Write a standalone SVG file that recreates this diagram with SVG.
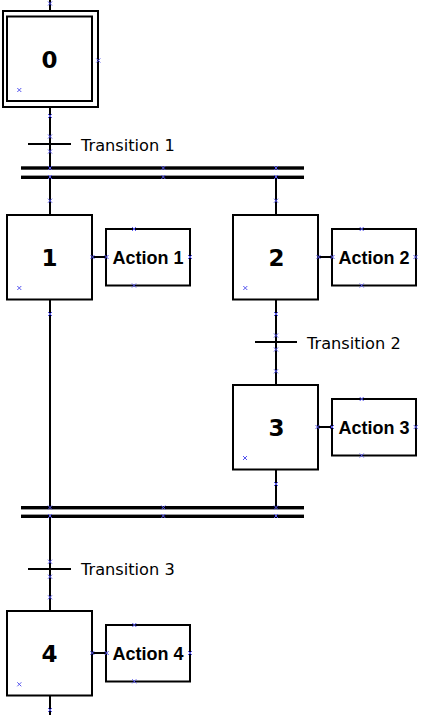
<svg xmlns="http://www.w3.org/2000/svg" xmlns:xlink="http://www.w3.org/1999/xlink" width="421" height="715" viewBox="0 0 421 715">
<style>
.box{fill:#fff;stroke:#000;stroke-width:2}
.ln{fill:none;stroke:#000;stroke-width:2}
.bar{fill:#000}
.num{font-family:"DejaVu Sans",Verdana,sans-serif;font-weight:bold;font-size:23px;text-anchor:middle}
.act{font-family:"Liberation Sans",Arial,sans-serif;font-weight:bold;font-size:18px;text-anchor:middle}
.tr{font-family:"DejaVu Sans",Verdana,sans-serif;font-size:16.2px}
.mk{fill:none;stroke:#5555ee;stroke-width:1}
</style>
<defs>
<path id="x" class="mk" d="M-2,-2L2,2M-2,2L2,-2"/>
</defs>
<rect width="421" height="715" fill="#fff"/>
<g id="connectors">
<path class="ln" d="M50 0V11M50 107V167M50 177V215M276 177V215M92 257H106M318 257H332M276 299V385M318 427H332M50 299V507M276 469V507M50 517V611M92 653H106M50 695V715"/>
<path class="ln" d="M28 144H71M255 342H297M28 569H71"/>
<rect class="bar" x="21" y="166.3" width="283" height="3.4"/>
<rect class="bar" x="21" y="175.6" width="283" height="3.4"/>
<rect class="bar" x="21" y="506" width="283" height="3.4"/>
<rect class="bar" x="21" y="514.6" width="283" height="3.4"/>
</g>
<g id="step0">
<rect class="box" x="3" y="11" width="95" height="96"/>
<rect class="box" x="7" y="16.5" width="85" height="84.5"/>
<text class="num" x="49.5" y="68">0</text>
</g>
<g id="step1">
<rect class="box" x="7" y="215" width="85" height="84.5"/>
<text class="num" x="49.5" y="266">1</text>
</g>
<g id="step2">
<rect class="box" x="233" y="215" width="85" height="84.5"/>
<text class="num" x="276.5" y="266">2</text>
</g>
<g id="step3">
<rect class="box" x="233" y="385" width="85" height="84.5"/>
<text class="num" x="276.5" y="436">3</text>
</g>
<g id="step4">
<rect class="box" x="7" y="611" width="85" height="84.5"/>
<text class="num" x="49.5" y="662">4</text>
</g>
<g id="action1">
<rect class="box" x="106" y="229" width="84" height="56.5"/>
<text class="act" x="148" y="264">Action 1</text>
</g>
<g id="action2">
<rect class="box" x="332" y="229" width="84" height="56.5"/>
<text class="act" x="374" y="264">Action 2</text>
</g>
<g id="action3">
<rect class="box" x="332" y="399" width="84" height="56.5"/>
<text class="act" x="374" y="434">Action 3</text>
</g>
<g id="action4">
<rect class="box" x="106" y="625" width="84" height="56.5"/>
<text class="act" x="148" y="660">Action 4</text>
</g>
<g id="transition1"><text class="tr" x="81" y="151">Transition 1</text></g>
<g id="transition2"><text class="tr" x="307" y="349">Transition 2</text></g>
<g id="transition3"><text class="tr" x="81" y="575">Transition 3</text></g>
<g id="markers">
<use xlink:href="#x" x="50" y="3.5"/><use xlink:href="#x" x="98.3" y="60.5"/><use xlink:href="#x" x="50" y="116"/><use xlink:href="#x" x="19.3" y="90"/>
<use xlink:href="#x" x="50" y="136.5"/><use xlink:href="#x" x="50" y="151.5"/>
<use xlink:href="#x" x="50" y="168"/><use xlink:href="#x" x="163.3" y="168"/><use xlink:href="#x" x="276" y="168"/>
<use xlink:href="#x" x="50" y="177"/><use xlink:href="#x" x="163.3" y="177"/><use xlink:href="#x" x="276" y="177"/>
<use xlink:href="#x" x="50" y="200.7"/><use xlink:href="#x" x="276" y="200.7"/>
<use xlink:href="#x" x="92.5" y="257"/><use xlink:href="#x" x="106.5" y="257"/><use xlink:href="#x" x="190" y="257"/><use xlink:href="#x" x="134" y="229"/><use xlink:href="#x" x="134" y="285.5"/><use xlink:href="#x" x="19.3" y="288"/>
<use xlink:href="#x" x="318.5" y="257"/><use xlink:href="#x" x="332.5" y="257"/><use xlink:href="#x" x="415.5" y="257"/><use xlink:href="#x" x="361.7" y="229"/><use xlink:href="#x" x="361.7" y="285.5"/><use xlink:href="#x" x="245.3" y="288"/>
<use xlink:href="#x" x="50" y="314"/><use xlink:href="#x" x="276" y="314"/>
<use xlink:href="#x" x="276" y="335.5"/><use xlink:href="#x" x="276" y="349.5"/><use xlink:href="#x" x="276" y="371.3"/>
<use xlink:href="#x" x="317.5" y="427"/><use xlink:href="#x" x="332" y="427"/><use xlink:href="#x" x="415.7" y="427"/><use xlink:href="#x" x="361.7" y="399"/><use xlink:href="#x" x="361.7" y="455.5"/><use xlink:href="#x" x="245" y="458"/>
<use xlink:href="#x" x="276" y="484"/>
<use xlink:href="#x" x="50" y="507.5"/><use xlink:href="#x" x="163.3" y="507.5"/><use xlink:href="#x" x="276" y="507.5"/>
<use xlink:href="#x" x="50" y="516"/><use xlink:href="#x" x="163.3" y="516"/><use xlink:href="#x" x="276" y="516"/>
<use xlink:href="#x" x="50" y="561.7"/><use xlink:href="#x" x="50" y="576.7"/><use xlink:href="#x" x="50" y="597.3"/>
<use xlink:href="#x" x="92.3" y="653"/><use xlink:href="#x" x="106.7" y="653"/><use xlink:href="#x" x="190" y="653"/><use xlink:href="#x" x="134.3" y="625"/><use xlink:href="#x" x="134.3" y="681.3"/><use xlink:href="#x" x="19.3" y="684.3"/>
<use xlink:href="#x" x="50" y="710"/>
</g>
</svg>
